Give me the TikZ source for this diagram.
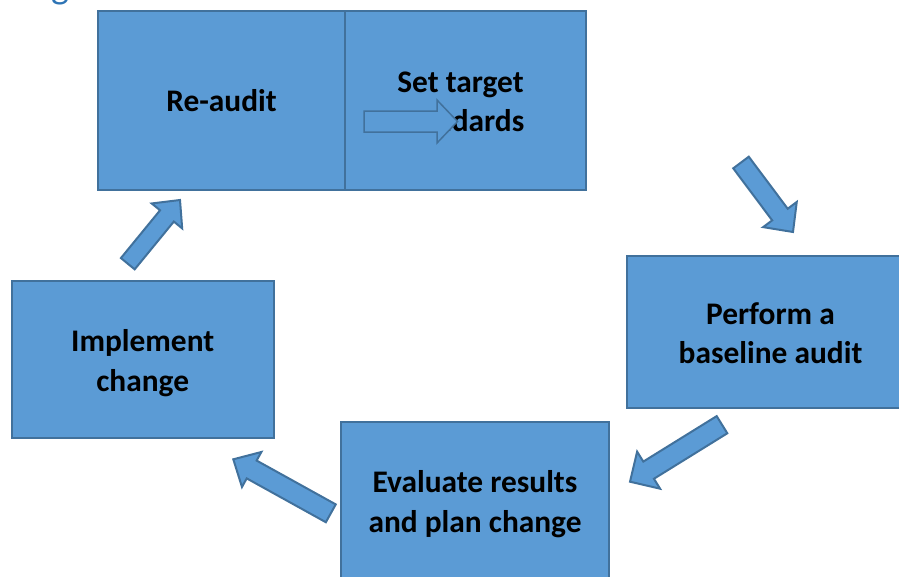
\documentclass[tikz,border=0pt]{standalone}
\usepackage{fontspec}
\setmainfont{Carlito}
\usetikzlibrary{calc}

\definecolor{boxfill}{HTML}{5B9BD5}
\definecolor{boxline}{HTML}{41719C}
\definecolor{headblue}{HTML}{2E74B5}

% block arrow: [style] {tail centre} {tip} {half shaft width} {half head width} {head length}
\newcommand\blockarrow[6][]{%
  \path ($(#3)!#6!(#2)$) coordinate (ba-base);
  \draw[arrowshape,#1]
    ($(#2)!#4!90:(#3)$) -- ($(ba-base)!#4!90:(#3)$) -- ($(ba-base)!#5!90:(#3)$)
    -- (#3)
    -- ($(ba-base)!#5!-90:(#3)$) -- ($(ba-base)!#4!-90:(#3)$) -- ($(#2)!#4!-90:(#3)$)
    -- cycle;
}

\tikzset{
  procbox/.style={draw=boxline, fill=boxfill, line width=2pt, inner sep=0pt,
    outer sep=0pt, anchor=north west},
  arrowshape/.style={draw=boxline, fill=boxfill, line width=2pt, line join=miter},
  lbl/.style={inner sep=0pt, anchor=base, text=black,
    font=\fontsize{31.4}{39.5}\selectfont\bfseries},
}

\begin{document}
\begin{tikzpicture}[x=1pt, y=-1pt]
  \useasboundingbox (0,0) rectangle (899,576);

  % heading, only its descender falls inside the page
  \node[font=\fontsize{38}{40}\selectfont, text=headblue, anchor=base west,
        inner sep=0pt] (heading) at (51,-2) {g};

  % process boxes
  \node[procbox, minimum width=247pt, minimum height=179pt] (reaudit) at (98,11) {};
  \node[procbox, minimum width=241pt, minimum height=179pt] (target)  at (345,11) {};
  \node[procbox, minimum width=286pt, minimum height=152pt] (perform) at (627,256) {};
  \node[procbox, minimum width=268pt, minimum height=164pt] (evaluate) at (341,422) {};
  \node[procbox, minimum width=262pt, minimum height=157pt] (implement) at (12,281) {};

  % box labels
  \node[lbl] (t-reaudit) at (221.5,111.7) {Re-audit};
  \node[lbl] (t-target) at (460.5,92)
    {\begin{tabular}[t]{@{}c@{}}Set target\\standards\end{tabular}};
  \node[lbl] (t-perform) at (770.5,324)
    {\begin{tabular}[t]{@{}c@{}}Perform a\\baseline audit\end{tabular}};
  \node[lbl] (t-evaluate) at (475,492.7)
    {\begin{tabular}[t]{@{}c@{}}Evaluate results\\and plan change\end{tabular}};
  \node[lbl] (t-implement) at (142.7,351.7)
    {\begin{tabular}[t]{@{}c@{}}Implement\\change\end{tabular}};

  % arrow ends
  \coordinate (a1-tail) at (741,162.5);   \coordinate (a1-tip) at (793,232);
  \coordinate (a2-tail) at (722,424.7);   \coordinate (a2-tip) at (630,481.7);
  \coordinate (a3-tail) at (330.8,513.3); \coordinate (a3-tip) at (233.3,459.3);
  \coordinate (a4-tail) at (127.8,263.7); \coordinate (a4-tip) at (180,200);
  \coordinate (a5-tail) at (364,121.5);   \coordinate (a5-tip) at (457.5,121.5);

  % cycle arrows between the boxes
  \blockarrow{a1-tail}{a1-tip}{9.7pt}{21pt}{21.8pt}
  \blockarrow{a2-tail}{a2-tip}{10.1pt}{21.8pt}{21.9pt}
  \blockarrow{a3-tail}{a3-tip}{10.2pt}{20pt}{21pt}
  \blockarrow{a4-tail}{a4-tip}{8.9pt}{19.7pt}{20.6pt}

  % arrow inside the target box, drawn over its label
  \blockarrow[line width=1.5pt]{a5-tail}{a5-tip}{10.5pt}{21.5pt}{20.5pt}
\end{tikzpicture}
\end{document}
